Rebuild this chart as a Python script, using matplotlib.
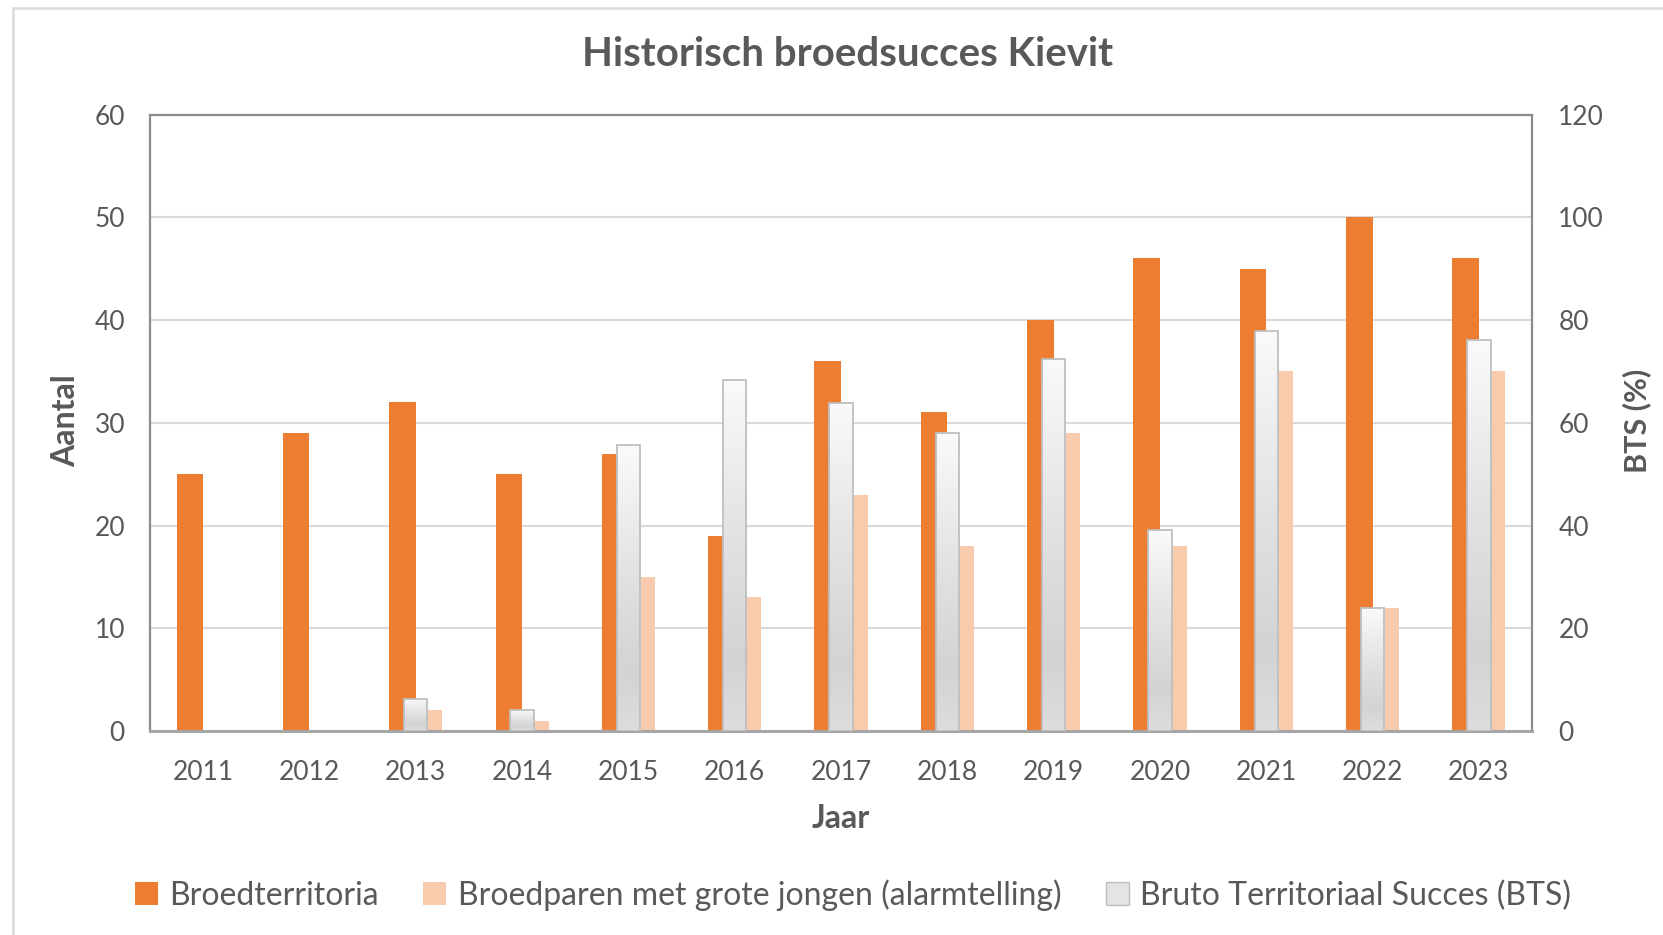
import matplotlib
matplotlib.use("Agg")
import matplotlib.pyplot as plt
import numpy as np
from matplotlib.colors import LinearSegmentedColormap
from matplotlib.patches import Patch
from matplotlib.lines import Line2D

years = ["2011", "2012", "2013", "2014", "2015", "2016", "2017",
         "2018", "2019", "2020", "2021", "2022", "2023"]
broedterritoria = [25, 29, 32, 25, 27, 19, 36, 31, 40, 46, 45, 50, 46]
broedparen = [0, 0, 2, 1, 15, 13, 23, 18, 29, 18, 35, 12, 35]
bts = [0, 0, 6.25, 4.0, 55.6, 68.4, 63.9, 58.1, 72.5, 39.1, 77.8, 24.0, 76.1]

left_ticks = [0, 10, 20, 30, 40, 50, 60]
right_ticks = [0, 20, 40, 60, 80, 100, 120]

title = "Historisch broedsucces Kievit"
xlabel = "Jaar"
ylabel_left = "Aantal"
ylabel_right = "BTS (%)"
labels = ["Broedterritoria", "Broedparen met grote jongen (alarmtelling)",
          "Bruto Territoriaal Succes (BTS)"]

C_ORANGE = "#ED7D31"
C_PEACH = "#F8CBAD"
C_TEXT = "#595959"
C_GRID = "#D9D9D9"
C_FRAME = "#8C8C8C"

plt.rcParams["font.family"] = ["Lato", "DejaVu Sans"]

W, H = 1663, 935
fig = plt.figure(figsize=(W / 100, H / 100), dpi=100)
fig.patch.set_facecolor("white")

# outer chart border (left and top visible)
fig.add_artist(Line2D([12.5 / W, 12.5 / W], [0, 1 - 7.5 / H], transform=fig.transFigure,
                      color="#D9D9D9", lw=1.8))
fig.add_artist(Line2D([12.5 / W, 1], [1 - 7.5 / H, 1 - 7.5 / H], transform=fig.transFigure,
                      color="#D9D9D9", lw=1.8))

ax = fig.add_axes([150 / W, 1 - 731 / H, (1532 - 150) / W, (731 - 114.5) / H])
x = np.arange(len(years))
bw = 0.25
ax.bar(x - bw / 2, broedterritoria, width=bw, color=C_ORANGE, zorder=2)
ax.bar(x + bw / 2, broedparen, width=bw, color=C_PEACH, zorder=2)
ax.set_xlim(-0.5, len(years) - 0.5)
ax.set_ylim(0, 60)
ax.set_yticks(left_ticks)
ax.set_xticks(x)
ax.set_xticklabels(years)
ax.yaxis.grid(True, color=C_GRID, lw=1.5)
ax.set_axisbelow(True)
ax.tick_params(axis="both", length=0, labelsize=19, labelcolor=C_TEXT)
ax.tick_params(axis="y", pad=18)
ax.tick_params(axis="x", pad=21)
for s in ax.spines.values():
    s.set_color(C_FRAME)
    s.set_linewidth(1.6)
ax.spines["bottom"].set_color("#A6A6A6")
ax.spines["bottom"].set_linewidth(2.2)

ax2 = ax.twinx()
bars = ax2.bar(x, bts, width=0.22, facecolor="none", edgecolor="#BFBFBF", lw=1.3, zorder=4)
cmap = LinearSegmentedColormap.from_list(
    "bts", [(0.0, "#DDDDDD"), (0.2, "#D3D3D3"), (0.55, "#E2E2E2"), (1.0, "#FAFAFA")])
grad = np.linspace(0, 1, 256).reshape(-1, 1)
for b in bars:
    h = b.get_height()
    if h <= 0:
        b.set_visible(False)
        continue
    x0 = b.get_x()
    im = ax2.imshow(grad, extent=[x0, x0 + b.get_width(), 0, h], origin="lower",
                    aspect="auto", cmap=cmap, vmin=0, vmax=1, zorder=3,
                    interpolation="bilinear")
    im.set_clip_path(b)
ax2.set_xlim(-0.5, len(years) - 0.5)
ax2.set_ylim(0, 120)
ax2.set_yticks(right_ticks)
ax2.tick_params(axis="y", length=0, labelsize=19, labelcolor=C_TEXT, pad=19)
for s in ax2.spines.values():
    s.set_visible(False)

ax.set_xlabel(xlabel, fontsize=23, fontweight="bold", color=C_TEXT, va="center", ha="center")
ax.set_ylabel(ylabel_left, fontsize=23, fontweight="bold", color=C_TEXT, va="center", ha="center")
ax2.set_ylabel(ylabel_right, fontsize=22, fontweight="bold", color=C_TEXT, rotation=90,
               va="center", ha="center")
pw, ph = (1532 - 150), (731 - 114.5)
ax.yaxis.set_label_coords((66 - 150) / pw, (731 - 421) / ph)
ax2.yaxis.set_label_coords((1637 - 150) / pw, (731 - 421) / ph)
ax.xaxis.set_label_coords((841 - 150) / pw, -(818 - 731) / ph)

fig.text(848 / W, 1 - 54 / H, title, ha="center", va="center", fontsize=29,
         fontweight="bold", color=C_TEXT)

handles = [Patch(facecolor=C_ORANGE, edgecolor="none"),
           Patch(facecolor=C_PEACH, edgecolor="none"),
           Patch(facecolor="#E4E4E4", edgecolor="#C0C0C0", lw=1.0)]
leg = fig.legend(handles, labels, loc="center", bbox_to_anchor=(853 / W, 1 - 895 / H),
                 ncol=3, frameon=False, fontsize=23, handlelength=0.72, handleheight=0.72,
                 handletextpad=0.35, columnspacing=1.4)
for t in leg.get_texts():
    t.set_color(C_TEXT)

fig.savefig("out.png", dpi=100, facecolor="white")
